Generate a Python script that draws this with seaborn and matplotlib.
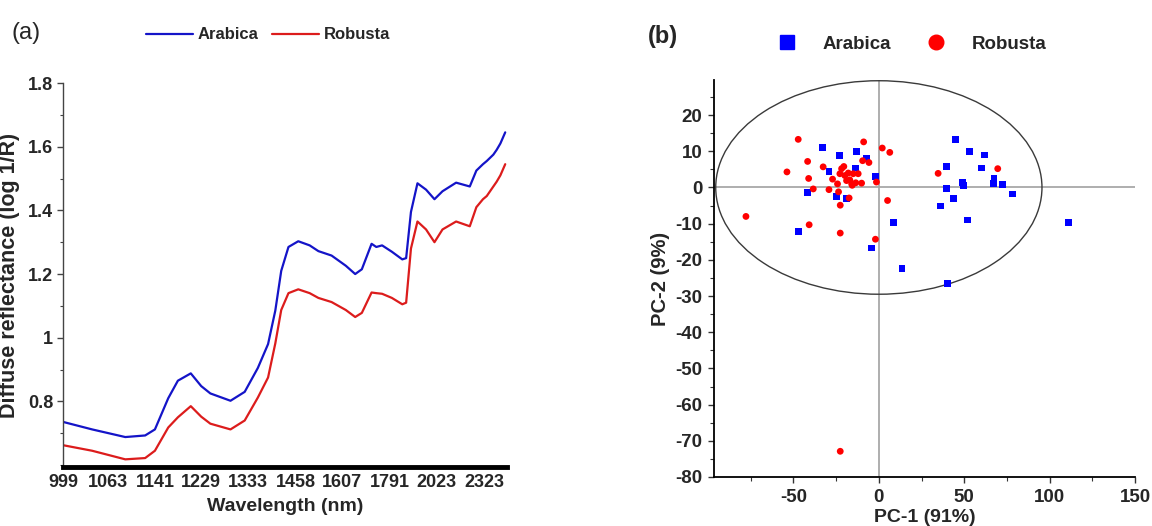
#-----------------------------------------------------------------
# Required Python Packages
#-----------------------------------------------------------------

import numpy as np
import pandas as pd
import matplotlib
matplotlib.use("Agg")
import matplotlib.pyplot as plt
from matplotlib.lines import Line2D
from matplotlib.patches import Ellipse
from matplotlib.ticker import FixedLocator, MultipleLocator, FuncFormatter
import seaborn as sns

#-----------------------------------------------------------------
# Data : (a) mean NIR spectra, (b) PCA scores
#-----------------------------------------------------------------

wavelength_nm = [1000, 1040, 1091, 1124, 1141, 1165, 1183, 1208, 1229, 1248,
                 1292, 1325, 1357, 1383, 1402, 1418, 1438, 1466, 1500, 1527,
                 1570, 1619, 1653, 1678, 1716, 1735, 1759, 1801, 1848, 1866,
                 1889, 1921, 1965, 2010, 2055, 2136, 2224, 2269, 2316, 2344,
                 2394, 2420, 2450, 2490]

arabica_spectrum = [0.735, 0.712, 0.688, 0.693, 0.712, 0.810, 0.865, 0.888, 0.848, 0.825,
                    0.802, 0.830, 0.905, 0.980, 1.085, 1.210, 1.285, 1.303, 1.290, 1.272,
                    1.258, 1.226, 1.200, 1.215, 1.295, 1.285, 1.290, 1.270, 1.246, 1.250,
                    1.395, 1.485, 1.465, 1.435, 1.460, 1.487, 1.475, 1.525, 1.545, 1.555,
                    1.575, 1.590, 1.610, 1.645]

robusta_spectrum = [0.662, 0.645, 0.618, 0.622, 0.645, 0.718, 0.750, 0.785, 0.752, 0.730,
                    0.712, 0.740, 0.812, 0.875, 0.982, 1.087, 1.140, 1.152, 1.140, 1.125,
                    1.112, 1.087, 1.065, 1.078, 1.142, 1.140, 1.138, 1.125, 1.105, 1.110,
                    1.280, 1.365, 1.340, 1.300, 1.340, 1.365, 1.350, 1.410, 1.435, 1.445,
                    1.475, 1.490, 1.510, 1.545]

wavelength_ticks = [999, 1063, 1141, 1229, 1333, 1458, 1607, 1791, 2023, 2323]

arabica_pc1 = [-32.9, -23.0, -13.2, -7.4, -29.2, -13.8, -2.0, -41.7, -24.7, -18.9,
               -47.2, 8.4, -4.1, 13.5, 44.8, 53.2, 62.0, 39.4, 60.2, 67.4,
               39.6, 49.1, 49.7, 66.9, 72.3, 78.4, 43.9, 36.3, 52.0, 110.9, 40.0]
arabica_pc2 = [11.0, 8.8, 10.0, 7.9, 4.4, 5.4, 3.1, -1.3, -2.5, -3.0,
               -12.1, -9.6, -16.7, -22.3, 13.2, 10.0, 9.0, 5.7, 5.4, 2.6,
               -0.3, 1.4, 0.6, 1.0, 0.8, -1.8, -3.0, -5.1, -9.0, -9.6, -26.5]

robusta_pc1 = [-47.2, -53.8, -41.7, -41.1, -38.4, -32.6, -27.1, -29.2, -24.2, -23.6,
               -22.6, -22.8, -21.8, -19.9, -17.9, -17.0, -18.9, -15.9, -15.0, -13.5,
               -12.1, -10.1, -17.4, -9.5, -5.8, -8.9, 2.0, 6.4, -1.4, 5.1,
               -40.8, -77.8, -22.6, -2.0, 34.7, 69.6, -22.6, -20.5, -15.6]
robusta_pc2 = [13.3, 4.3, 7.2, 2.5, -0.4, 5.7, 2.3, -0.6, 1.0, -1.2,
               -4.9, 3.8, 5.2, 3.3, 4.0, 2.1, 1.9, 1.0, 3.8, 1.3,
               3.8, 1.2, -2.9, 7.4, 6.9, 12.6, 10.9, 9.7, 1.5, -3.6,
               -10.3, -8.0, -12.6, -14.3, 3.9, 5.2, -72.9, 5.8, 0.6]

# Hotelling T2 ellipse (centre, semi-axes)
ellipse_center = (0.0, 0.0)
ellipse_semi_axes = (95.5, 29.5)

LINE_COLORS = {"Arabica": "#1414c8", "Robusta": "#dc1c1c"}
POINT_COLORS = {"Arabica": "#0000ff", "Robusta": "#ff0000"}


def bold_ticklabels(ax):
    for lbl in ax.get_xticklabels() + ax.get_yticklabels():
        lbl.set_fontweight("bold")


#-----------------------------------------------------------------
# Function Name : plot_spectra
# Description   : Panel (a), mean spectra on a wavenumber-linear axis
#-----------------------------------------------------------------
def plot_spectra(fig, ax):
    df = pd.DataFrame({
        "wavelength": wavelength_nm * 2,
        "value": arabica_spectrum + robusta_spectrum,
        "variety": ["Arabica"] * len(wavelength_nm) + ["Robusta"] * len(wavelength_nm),
    })

    # axis is linear in 1/wavelength (wavenumber)
    ax.set_xscale("function", functions=(lambda x: -1e7 / np.asarray(x, float),
                                         lambda y: -1e7 / np.asarray(y, float)))

    sns.lineplot(data=df, x="wavelength", y="value", hue="variety",
                 palette=LINE_COLORS, linewidth=1.6, ax=ax)

    ax.set_xlim(999, 2505)
    ax.set_ylim(0.594, 1.8)
    ax.xaxis.set_major_locator(FixedLocator(wavelength_ticks))
    ax.xaxis.set_minor_locator(FixedLocator([]))
    ax.set_xticklabels([str(t) for t in wavelength_ticks])
    ax.yaxis.set_major_locator(FixedLocator([0.8, 1.0, 1.2, 1.4, 1.6, 1.8]))
    ax.yaxis.set_minor_locator(MultipleLocator(0.1))
    ax.yaxis.set_major_formatter(FuncFormatter(lambda v, p: f"{v:g}"))

    ax.tick_params(axis="x", bottom=False, length=0, pad=5, labelsize=13)
    ax.tick_params(axis="y", which="major", left=True, length=4, width=1, pad=3,
                   labelsize=13, color="#444444")
    ax.tick_params(axis="y", which="minor", left=True, length=2.5, width=0.8,
                   color="#444444")

    for side in ["top", "right"]:
        ax.spines[side].set_visible(False)
    ax.spines["left"].set_color("#444444")
    ax.spines["left"].set_linewidth(1.0)
    ax.spines["bottom"].set_color("black")
    ax.spines["bottom"].set_linewidth(3.5)

    ax.set_xlabel("Wavelength (nm)", fontsize=14, fontweight="bold", labelpad=5)
    ax.set_ylabel("Diffuse reflectance (log 1/R)", fontsize=15.5, fontweight="bold",
                  labelpad=6)
    bold_ticklabels(ax)

    handles, labels = ax.get_legend_handles_labels()
    ax.get_legend().remove()
    fig.legend(handles, labels, loc="center", bbox_to_anchor=(0.2326, 0.9335),
               ncol=2, frameon=False, handlelength=2.8,
               handletextpad=0.3, columnspacing=0.8,
               prop={"weight": "bold", "size": 12})


#-----------------------------------------------------------------
# Function Name : plot_scores
# Description   : Panel (b), PCA score plot with T2 ellipse
#-----------------------------------------------------------------
def plot_scores(fig, ax):
    scores = pd.DataFrame({
        "PC1": arabica_pc1 + robusta_pc1,
        "PC2": arabica_pc2 + robusta_pc2,
        "variety": ["Arabica"] * len(arabica_pc1) + ["Robusta"] * len(robusta_pc1),
    })

    ax.axvline(0, color="#a8a8a8", linewidth=1.3, zorder=1)
    ax.axhline(0, color="#a8a8a8", linewidth=1.3, zorder=1)
    ax.add_patch(Ellipse(ellipse_center, 2 * ellipse_semi_axes[0],
                         2 * ellipse_semi_axes[1], fill=False,
                         edgecolor="#3a3a3a", linewidth=1.0, zorder=2))

    sns.scatterplot(data=scores, x="PC1", y="PC2", hue="variety", style="variety",
                    palette=POINT_COLORS, markers={"Arabica": "s", "Robusta": "o"},
                    s=24, linewidth=0, legend=False, zorder=3, ax=ax)

    ax.set_xlim(-96.5, 150)
    ax.set_ylim(-80, 29.7)
    ax.xaxis.set_major_locator(MultipleLocator(50))
    ax.xaxis.set_minor_locator(MultipleLocator(25))
    ax.set_yticks(np.arange(-80, 21, 10))
    ax.yaxis.set_minor_locator(MultipleLocator(5))

    ax.tick_params(which="major", left=True, bottom=True, length=4.5, width=1,
                   labelsize=13.5, pad=4, color="#333333")
    ax.tick_params(which="minor", left=True, bottom=True, length=3, width=0.8,
                   color="#333333")

    for side in ["top", "right"]:
        ax.spines[side].set_visible(False)
    for side in ["left", "bottom"]:
        ax.spines[side].set_color("black")
        ax.spines[side].set_linewidth(1.3)

    ax.set_xlabel("PC-1 (91%)", fontsize=14, fontweight="bold", labelpad=2)
    ax.set_ylabel("PC-2 (9%)", fontsize=14.5, fontweight="bold", labelpad=4)
    bold_ticklabels(ax)

    handles = [
        Line2D([], [], marker="s", linestyle="", color=POINT_COLORS["Arabica"],
               markersize=10),
        Line2D([], [], marker="o", linestyle="", color=POINT_COLORS["Robusta"],
               markersize=10.5),
    ]
    fig.legend(handles, ["Arabica", "Robusta"], loc="center",
               bbox_to_anchor=(0.7917, 0.9163), ncol=2, frameon=False,
               handlelength=1.0, handletextpad=1.4, columnspacing=1.9,
               prop={"weight": "bold", "size": 13.5})


#-----------------------------------------------------------------
# Function Name : main
#-----------------------------------------------------------------
def main():
    sns.set_theme(style="ticks")
    plt.rcParams["font.family"] = ["Liberation Sans", "DejaVu Sans"]
    plt.rcParams["font.weight"] = "bold"
    plt.rcParams["axes.unicode_minus"] = False

    fig = plt.figure(figsize=(11.52, 5.26), dpi=100)
    ax_a = fig.add_axes([0.0547, 0.1122, 0.3854, 0.7300])
    ax_b = fig.add_axes([0.6198, 0.0932, 0.3655, 0.7547])

    plot_spectra(fig, ax_a)
    plot_scores(fig, ax_b)

    fig.text(0.010, 0.938, "(a)", fontsize=17, fontweight="normal", va="center")
    fig.text(0.562, 0.930, "(b)", fontsize=17, fontweight="bold", va="center")

    fig.savefig("out.png", dpi=100, facecolor="white")


if __name__ == "__main__":
    main()
